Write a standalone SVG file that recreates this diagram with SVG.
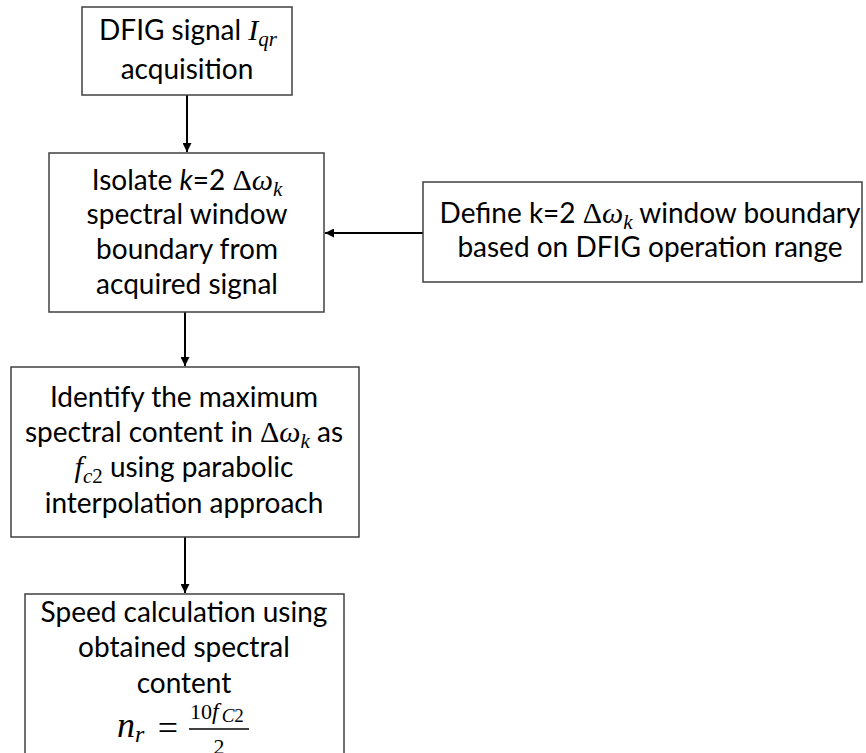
<svg xmlns="http://www.w3.org/2000/svg" width="866" height="753" viewBox="0 0 866 753">
<style>
.box{fill:#ffffff;stroke:#404040;stroke-width:1.5}
.t{font-family:Lato,"Open Sans","Liberation Sans",sans-serif;font-size:28px;fill:#000000;text-anchor:middle}
.m{font-family:"Liberation Serif","DejaVu Serif",serif;font-style:italic}
.mu{font-family:"Liberation Serif","DejaVu Serif",serif;font-style:normal}
.big{font-size:30px}
.sub{font-size:21px}
.conn{stroke:#000000;stroke-width:2;fill:none}
</style>
<defs>
<marker id="arr" viewBox="0 0 10 10" refX="10" refY="5" markerWidth="9" markerHeight="9" markerUnits="userSpaceOnUse" orient="auto">
<path d="M0,0 L10,5 L0,10 Z" fill="#000000"/>
</marker>
</defs>
<rect width="866" height="753" fill="#ffffff"/>
<g id="connectors">
<line class="conn" x1="187" y1="95" x2="187" y2="152" marker-end="url(#arr)"/>
<line class="conn" x1="423" y1="233" x2="325" y2="233" marker-end="url(#arr)"/>
<line class="conn" x1="185" y1="312" x2="185" y2="366" marker-end="url(#arr)"/>
<line class="conn" x1="185" y1="537" x2="185" y2="593" marker-end="url(#arr)"/>
</g>
<g id="node1">
<rect class="box" x="82" y="7" width="210" height="88"/>
<text class="t" x="188" y="40">DFIG signal <tspan class="m big">I</tspan><tspan class="m sub" dy="6">qr</tspan></text>
<text class="t" x="187" y="79">acquisition</text>
</g>
<g id="node2">
<rect class="box" x="49" y="153" width="275" height="159"/>
<text class="t" x="187" y="190">Isolate <tspan font-style="italic">k</tspan>=2 <tspan class="mu big">Δ</tspan><tspan class="m big">ω</tspan><tspan class="m sub" dy="6">k</tspan></text>
<text class="t" x="187" y="224">spectral window</text>
<text class="t" x="187" y="259">boundary from</text>
<text class="t" x="187" y="294">acquired signal</text>
</g>
<g id="node3">
<rect class="box" x="423" y="182" width="439" height="100"/>
<text class="t" x="650" y="223">Define k=2 <tspan class="mu big">Δ</tspan><tspan class="m big">ω</tspan><tspan class="m sub" dy="6">k</tspan><tspan dy="-6"> window boundary</tspan></text>
<text class="t" x="650" y="257">based on DFIG operation range</text>
</g>
<g id="node4">
<rect class="box" x="11" y="367" width="348" height="170"/>
<text class="t" x="184" y="407">Identify the maximum</text>
<text class="t" x="184" y="442">spectral content in <tspan class="mu big">Δ</tspan><tspan class="m big">ω</tspan><tspan class="m sub" dy="6">k</tspan><tspan dy="-6"> as</tspan></text>
<text class="t" x="184" y="477"><tspan class="m big">f</tspan><tspan class="m sub" dy="6">c</tspan><tspan class="mu sub">2</tspan><tspan dy="-6"> using parabolic</tspan></text>
<text class="t" x="184" y="513">interpolation approach</text>
</g>
<g id="node5">
<rect class="box" x="25" y="594" width="319" height="180"/>
<text class="t" x="184" y="622">Speed calculation using</text>
<text class="t" x="184" y="657">obtained spectral</text>
<text class="t" x="184" y="693">content</text>
<text class="t m" x="117" y="737" style="text-anchor:start;font-size:36px">n<tspan style="font-size:24px" dy="5">r</tspan></text>
<text class="t mu" x="168" y="740" style="font-size:36px">=</text>
<line x1="189" y1="729" x2="249" y2="729" stroke="#000000" stroke-width="1.5"/>
<text class="t mu" x="190" y="719" style="text-anchor:start;font-size:22px">10<tspan class="m" style="font-size:24px">f</tspan><tspan class="m" style="font-size:19px" dy="3" dx="3">C</tspan><tspan style="font-size:19px">2</tspan></text>
<text class="t mu" x="219" y="754" style="font-size:22px">2</text>
</g>
</svg>
